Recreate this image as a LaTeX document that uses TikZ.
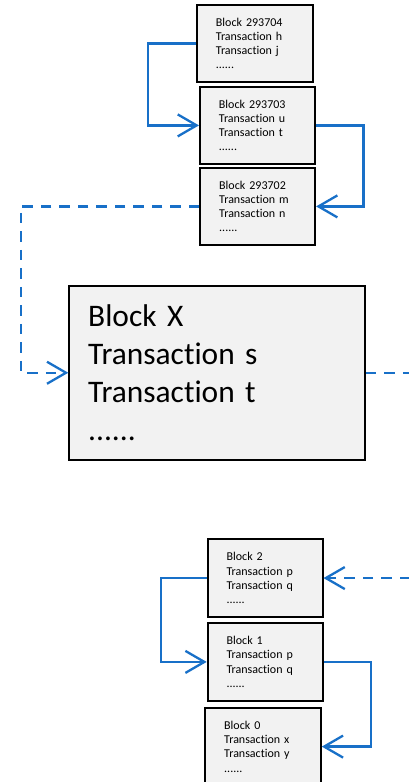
\documentclass[tikz,border=0pt]{standalone}
\usepackage{fontspec}
\setmainfont{Carlito}[Ligatures={NoCommon}]
\newfontfamily\tightfam{Carlito}[Ligatures={NoCommon}, WordSpace=0.45]
\usetikzlibrary{arrows.meta}
\definecolor{boxgray}{RGB}{242,242,242}
\definecolor{linkblue}{RGB}{24,112,200}
\tikzset{
  blk/.style={draw=black, line width=1.8pt, fill=boxgray, align=left,
    anchor=north west, inner xsep=19pt, inner ysep=0pt,
    font=\tightfam\fontsize{12}{14.3}\selectfont},
  bigblk/.style={blk, font=\normalfont\fontsize{31.4}{38.3}\selectfont},
  tip/.style={-{Straight Barb[length=19pt,width=22pt]}},
  link/.style={draw=linkblue, line width=2.3pt, tip},
  chainlink/.style={link, dash pattern=on 10.5pt off 8pt},
}
\begin{document}
\begin{tikzpicture}[x=1pt,y=-1pt]
\useasboundingbox (0,0) rectangle (408,782);

% upper chain
\node[blk, text width=78pt, minimum height=77pt] (b704) at (196,4)
  {Block 293704\\Transaction h\\Transaction j\\......};
\node[blk, text width=77pt, minimum height=77pt] (b703) at (199,86)
  {Block 293703\\Transaction u\\Transaction t\\......};
\node[blk, text width=77pt, minimum height=77pt] (b702) at (199.3,167)
  {Block 293702\\Transaction m\\Transaction n\\......};

% block X
\node[bigblk, text width=257.7pt, minimum height=173.7pt] (bx) at (68.3,285)
  {Block X\\Transaction s\\Transaction t\\......};

% lower chain
\node[blk, text width=77pt, minimum height=77.7pt] (b2) at (206.7,538.3)
  {Block 2\\Transaction p\\Transaction q\\......};
\node[blk, text width=77pt, minimum height=78pt] (b1) at (206.7,622)
  {Block 1\\Transaction p\\Transaction q\\......};
\node[blk, text width=77.7pt, minimum height=78pt] (b0) at (204.3,706.7)
  {Block 0\\Transaction x\\Transaction y\\......};

% loose ends leaving the page on the right
\coordinate (outX) at (410,0);

% links
\draw[link] (b704.west) -- ++(-48,0) |- (b703.west);
\draw[link] (b703.east) -- ++(47.7,0) |- (b702.east);
\draw[chainlink] (b702.west) -- ++(-178.6,0) |- (bx.west);
\draw[chainlink, -] (bx.east) -- (bx.east -| outX);
\draw[chainlink] (b2.east -| outX) -- (b2.east);
\draw[link] (b2.west) -- ++(-45.7,0) |- (b1.west);
\draw[link] (b1.east) -- ++(47.6,0) |- (b0.east);
\end{tikzpicture}
\end{document}
